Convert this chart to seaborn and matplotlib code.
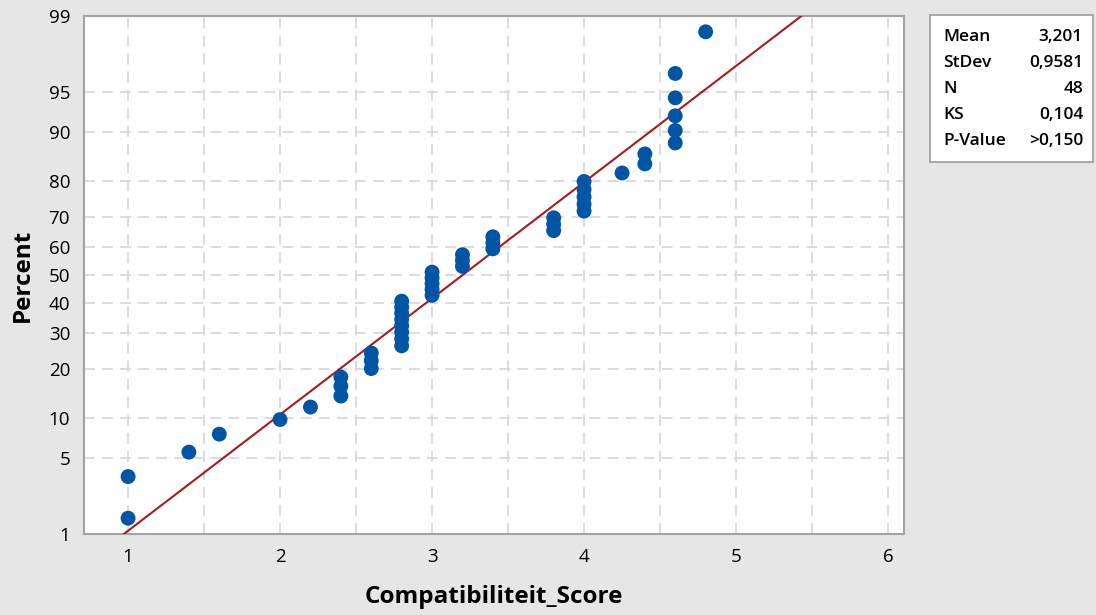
import numpy as np
import pandas as pd
import matplotlib
matplotlib.use('Agg')
import matplotlib.pyplot as plt
import seaborn as sns
from matplotlib.patches import Rectangle
from statistics import NormalDist

score_values = [1.0, 1.4, 1.6, 2.0, 2.2, 2.4, 2.6, 2.8, 3.0, 3.2, 3.4, 3.8, 4.0, 4.25, 4.4, 4.6, 4.8]
score_counts = [2, 1, 1, 1, 1, 3, 3, 8, 5, 3, 3, 3, 5, 1, 2, 5, 1]

stat_labels = ['Mean', 'StDev', 'N', 'KS', 'P-Value']
stat_values = ['3,201', '0,9581', '48', '0,104', '>0,150']
fit_mean = 3.201
fit_sd = 0.9581

y_ticks = [1, 5, 10, 20, 30, 40, 50, 60, 70, 80, 90, 95, 99]
x_ticks = [1, 2, 3, 4, 5, 6]

scores = np.repeat(score_values, score_counts)
n = len(scores)
# Minitab plotting position (median rank)
percent = (np.arange(1, n + 1) - 0.3) / (n + 0.4) * 100
df = pd.DataFrame({'score': scores, 'percent': percent})

fit = NormalDist(fit_mean, fit_sd)
line_df = pd.DataFrame({'score': [fit.inv_cdf(0.005), fit.inv_cdf(0.995)],
                        'percent': [0.5, 99.5]})

_nd = NormalDist()
_ppf = np.vectorize(_nd.inv_cdf, otypes=[float])
_cdf = np.vectorize(_nd.cdf, otypes=[float])


def forward(p):
    p = np.clip(np.asarray(p, dtype=float) / 100, 1e-9, 1 - 1e-9)
    return _ppf(p)


def inverse(z):
    return _cdf(np.asarray(z, dtype=float)) * 100


sns.set_style('white')
plt.rcParams['font.family'] = ['Open Sans', 'DejaVu Sans']
plt.rcParams['text.color'] = 'black'
plt.rcParams['axes.labelcolor'] = 'black'

bg = '#e6e6e6'
fig = plt.figure(figsize=(10.96, 6.15), dpi=100, facecolor=bg)
ax = fig.add_axes([84 / 1096, 1 - 534 / 615, (904 - 84) / 1096, (534 - 16) / 615])
ax.set_facecolor('white')
ax.set_yscale('function', functions=(forward, inverse))

sns.lineplot(data=line_df, x='score', y='percent', ax=ax, color='#a51c1c',
             linewidth=1.5, zorder=3)
sns.scatterplot(data=df, x='score', y='percent', ax=ax, color='#0055a5',
                s=115, edgecolor='none', linewidth=0, zorder=4)

ax.set_xlim(0.71, 6.105)
ax.set_ylim(1, 99)
ax.set_xticks(x_ticks)
ax.set_xticks([1.5, 2.5, 3.5, 4.5, 5.5], minor=True)
ax.set_yticks(y_ticks)
ax.set_yticks([], minor=True)
ax.set_yticklabels([str(t) for t in y_ticks])
ax.set_xticklabels([str(t) for t in x_ticks])

grid_kw = dict(color='#d9d9d9', linestyle=(0, (6, 4)), linewidth=1.3)
ax.grid(True, which='major', axis='both', **grid_kw)
ax.grid(True, which='minor', axis='x', **grid_kw)
ax.set_axisbelow(True)

for sp in ax.spines.values():
    sp.set_color('#a3a3a3')
    sp.set_linewidth(1.5)
ax.tick_params(axis='both', which='major', direction='out', length=6, width=1.3,
               color='#a3a3a3', labelsize=13.5, labelcolor='black', pad=4)
ax.tick_params(axis='both', which='minor', length=0)

ax.set_xlabel('Compatibiliteit_Score', fontsize=17.5, fontweight='bold',
              labelpad=14, color='black')
ax.set_ylabel('Percent', fontsize=17.5, fontweight='bold', labelpad=10, color='black')

# statistics box
W, H = 1096, 615
fig.patches.append(Rectangle((930 / W, 1 - 162 / H), (1093 - 930) / W, (162 - 15) / H,
                             transform=fig.transFigure, facecolor='white',
                             edgecolor='#a3a3a3', linewidth=1.3))
for i, (lab, val) in enumerate(zip(stat_labels, stat_values)):
    yy = 1 - (37 + 26 * i) / H
    fig.text(943 / W, yy, lab, fontsize=12.5, fontweight='semibold',
             va='center', ha='left', color='black')
    fig.text(1083 / W, yy, val, fontsize=12.5, fontweight='semibold',
             va='center', ha='right', color='black')

fig.savefig('out.png', dpi=100, facecolor=bg)
